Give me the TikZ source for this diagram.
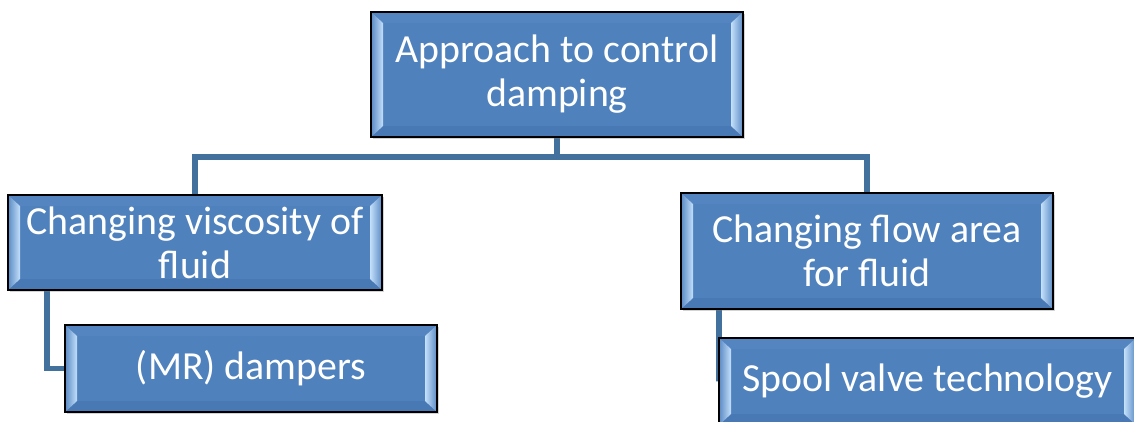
\documentclass[tikz,border=0pt]{standalone}
\usepackage{fontspec}
\setmainfont{Carlito}
\usetikzlibrary{shadows,backgrounds}

\definecolor{boxblue}{HTML}{4F81BD}
\definecolor{bevlight}{HTML}{C4E0FA}
\definecolor{bevside}{HTML}{5A8AC5}
\definecolor{bevtop}{HTML}{5585C1}
\definecolor{bevbottom}{HTML}{4979B5}
\definecolor{linkblue}{HTML}{41719C}

\tikzset{
  bevelbox/.style={
    draw=black, line width=1.8pt, fill=boxblue, text=white,
    align=center, inner sep=0pt, rectangle,
    font=\fontsize{39.8}{44}\selectfont,
    drop shadow={shadow xshift=1.5pt, shadow yshift=-1.5pt, opacity=0.35},
    path picture={
      % top bevel
      \fill[bevtop] (path picture bounding box.north west)
        -- (path picture bounding box.north east)
        -- ([shift={(-12pt,-11pt)}]path picture bounding box.north east)
        -- ([shift={(12pt,-11pt)}]path picture bounding box.north west) -- cycle;
      % bottom bevel
      \fill[bevbottom] (path picture bounding box.south west)
        -- (path picture bounding box.south east)
        -- ([shift={(-12pt,11pt)}]path picture bounding box.south east)
        -- ([shift={(12pt,11pt)}]path picture bounding box.south west) -- cycle;
      % left bevel
      \fill[left color=bevside, right color=bevlight] (path picture bounding box.north west)
        -- ([shift={(12pt,-11pt)}]path picture bounding box.north west)
        -- ([shift={(12pt,11pt)}]path picture bounding box.south west)
        -- (path picture bounding box.south west) -- cycle;
      % right bevel
      \fill[left color=bevlight, right color=bevside] (path picture bounding box.north east)
        -- ([shift={(-12pt,-11pt)}]path picture bounding box.north east)
        -- ([shift={(-12pt,11pt)}]path picture bounding box.south east)
        -- (path picture bounding box.south east) -- cycle;
    }
  },
  link/.style={draw=linkblue, line width=5.5pt, line join=miter}
}

\begin{document}
\begin{tikzpicture}[x=1pt,y=-1pt]
  \useasboundingbox (0,0) rectangle (1134,421);
  \clip (0,0) rectangle (1134,421);

  \node[bevelbox, minimum width=372pt, minimum height=125pt] (top) at (557,74.5)
    {Approach to control\\damping};
  \node[bevelbox, minimum width=374pt, minimum height=95pt] (visc) at (195,242.5)
    {Changing viscosity of\\fluid};
  \node[bevelbox, minimum width=372pt, minimum height=87pt] (mr) at (251,368.5)
    {(MR) dampers};
  \node[bevelbox, minimum width=372pt, minimum height=116pt] (flow) at (867,251)
    {Changing flow area\\for fluid};
  \node[bevelbox, minimum width=417pt, minimum height=87pt] (spool) at (927.5,381.5)
    {Spool valve technology};

  \coordinate (bus) at (557,157);

  \begin{scope}[on background layer]
    \draw[link] (top.south) -- (bus);
    \draw[link] (visc.north) |- (bus) -| (flow.north);
    \draw[link] ([xshift=40pt]visc.south west) |- (mr.west);
    \draw[link] ([xshift=39pt]flow.south west) |- (spool.west);
  \end{scope}
\end{tikzpicture}
\end{document}
